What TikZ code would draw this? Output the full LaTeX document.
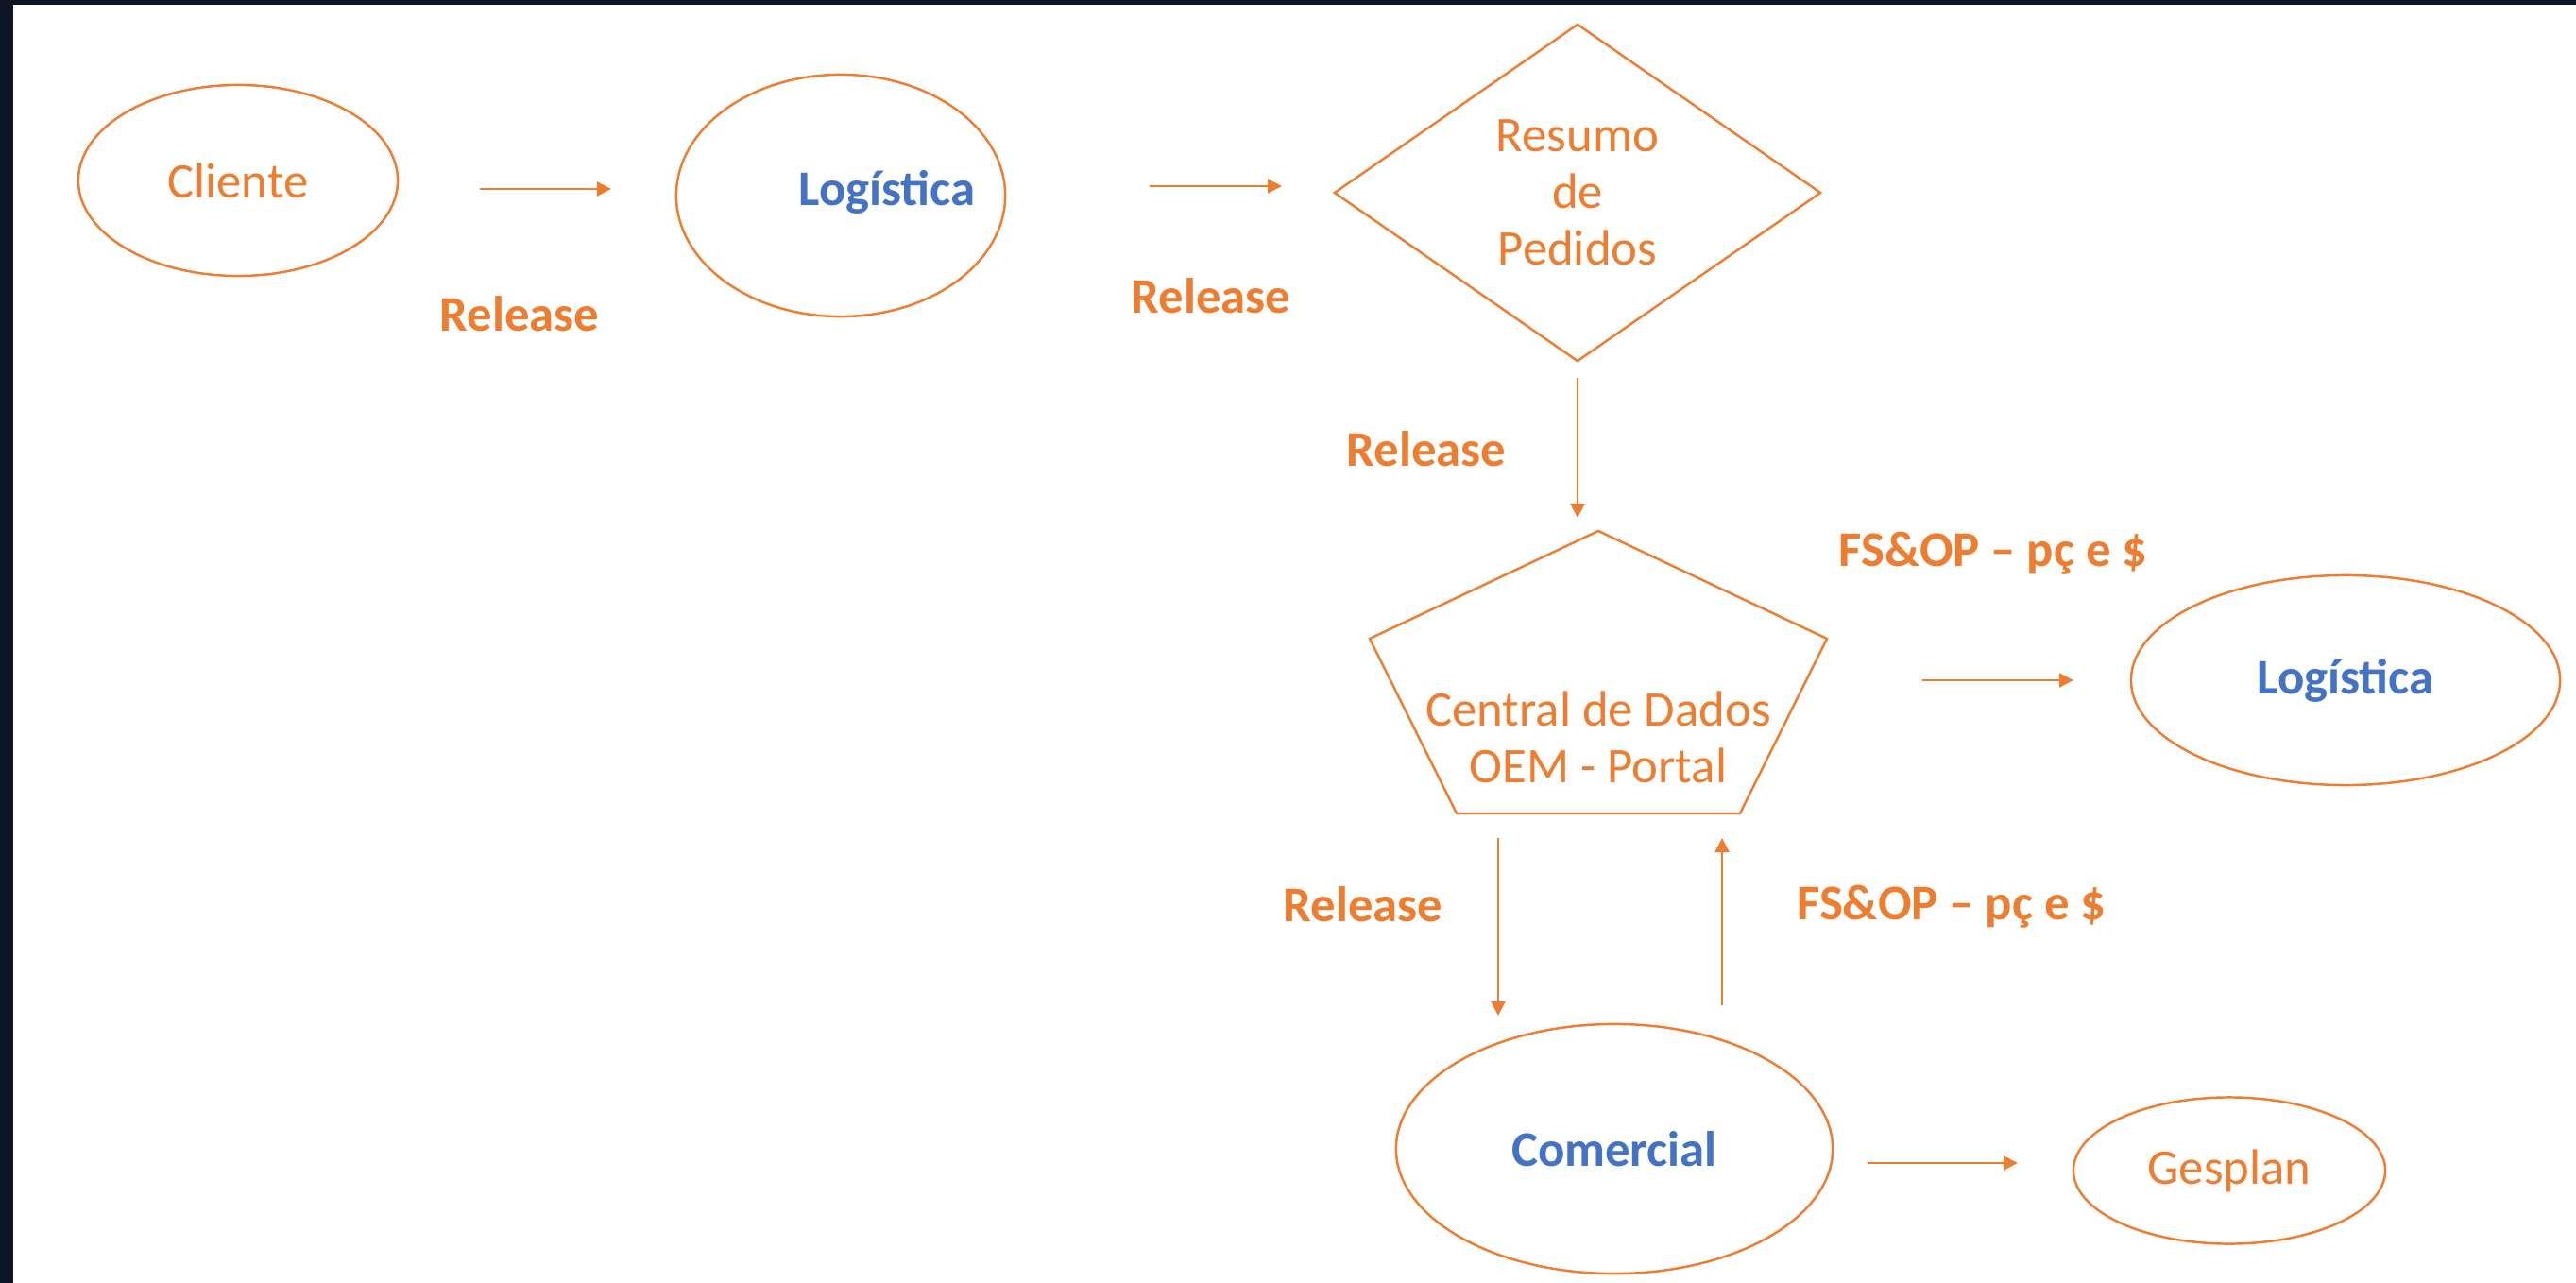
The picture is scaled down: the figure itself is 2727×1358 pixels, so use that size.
\documentclass[tikz,border=0pt]{standalone}
\usepackage{fontspec}
\setmainfont{Carlito}
\usetikzlibrary{shapes.geometric,arrows.meta}
\definecolor{laranja}{HTML}{ED7D31}
\definecolor{azul}{HTML}{4472C4}
\definecolor{moldura}{HTML}{0B1524}

\tikzset{
  caixa/.style={draw=laranja, line width=0.7pt, ellipse, inner sep=0pt},
  negrito/.style={font=\bfseries\fontsize{15}{17}\selectfont},
  rotulo/.style={negrito, text=laranja},
  seta/.style={draw=laranja, line width=0.6pt, -{Triangle[length=1.5mm,width=1.5mm]}},
}

\begin{document}
\begin{tikzpicture}[x=0.01cm, y=-0.01cm, font=\fontsize{15}{17}\selectfont]
% fundo
\fill[moldura] (0,0) rectangle (2727,1358);
\fill[white] (14,5) rectangle (2727,1358);
\useasboundingbox (0,0) rectangle (2727,1358);

% formas
\node[caixa, minimum width=3.38cm, minimum height=2.02cm, text=laranja] (cliente) at (252,191) {Cliente};
\node[caixa, minimum width=3.48cm, minimum height=2.56cm,
  label={[negrito, text=azul, xshift=0.49cm, yshift=0.04cm]center:Logística}] (logistica1) at (890,207) {};
\node[draw=laranja, line width=0.7pt, diamond, minimum width=5.15cm, minimum height=3.57cm,
  inner sep=0pt, align=center, text=laranja] (resumo) at (1670,204) {Resumo\\de\\Pedidos};
\coordinate (p1) at (1692,562);
\coordinate (p2) at (1450,676);
\coordinate (p3) at (1934,676);
\coordinate (p4) at (1542,861);
\coordinate (p5) at (1842,861);
\draw[draw=laranja, line width=0.7pt] (p1) -- (p2) -- (p4) -- (p5) -- (p3) -- cycle;
\node[text=laranja, align=center] (central) at (1692,780) {Central de Dados\\OEM - Portal};
\node[caixa, minimum width=4.54cm, minimum height=2.22cm, negrito, text=azul] (logistica2) at (2483,720) {Logística};
\node[caixa, minimum width=4.62cm, minimum height=2.64cm, negrito, text=azul] (comercial) at (1709,1216) {Comercial};
\node[caixa, minimum width=3.30cm, minimum height=1.55cm, text=laranja] (gesplan) at (2360,1239) {Gesplan};

% setas
\coordinate (s1a) at (508,200);
\coordinate (s1b) at (647,200);
\coordinate (s2a) at (1217,197);
\coordinate (s2b) at (1357,197);
\coordinate (s3a) at (1670,400);
\coordinate (s3b) at (1670,548);
\coordinate (s4a) at (2035,720);
\coordinate (s4b) at (2195,720);
\coordinate (s5a) at (1586,887);
\coordinate (s5b) at (1586,1075);
\coordinate (s6a) at (1823,1064);
\coordinate (s6b) at (1823,887);
\coordinate (s7a) at (1977,1231);
\coordinate (s7b) at (2136,1231);
\draw[seta] (s1a) -- (s1b);
\draw[seta] (s2a) -- (s2b);
\draw[seta] (s3a) -- (s3b);
\draw[seta] (s4a) -- (s4b);
\draw[seta] (s5a) -- (s5b);
\draw[seta] (s6a) -- (s6b);
\draw[seta] (s7a) -- (s7b);

% rotulos
\node[rotulo] (r1) at (550,332) {Release};
\node[rotulo] (r2) at (1282,313) {Release};
\node[rotulo] (r3) at (1510,475) {Release};
\node[rotulo] (f1) at (2110,586) {FS\&OP – pç e \$};
\node[rotulo] (r4) at (1443,957) {Release};
\node[rotulo] (f2) at (2066,960) {FS\&OP – pç e \$};
\end{tikzpicture}
\end{document}
